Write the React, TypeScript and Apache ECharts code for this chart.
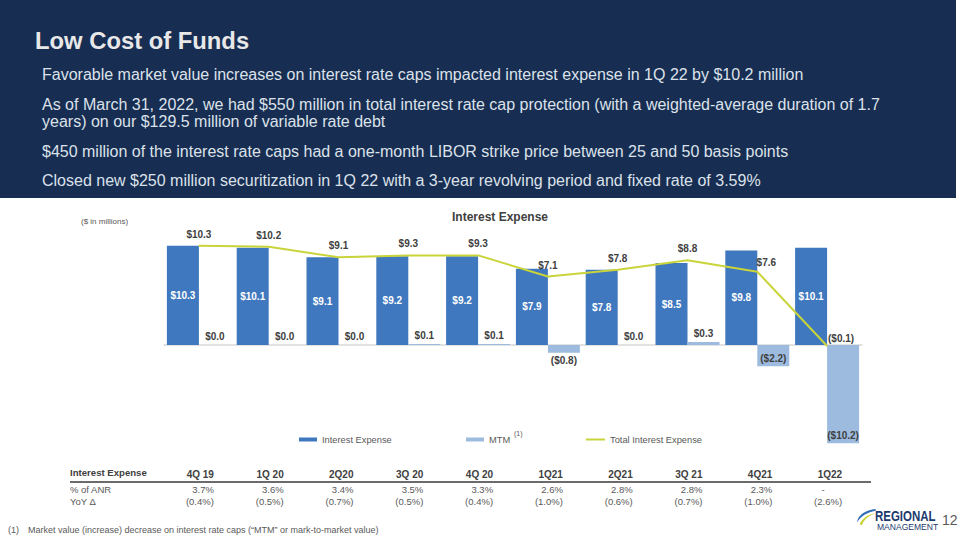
import React, { useEffect, useRef } from "react";
import * as echarts from "echarts";

const categories = ["4Q 19", "1Q 20", "2Q20", "3Q 20", "4Q 20", "1Q21", "2Q21", "3Q 21", "4Q21", "1Q22"];
const interestExpense = [10.3, 10.1, 9.1, 9.2, 9.2, 7.9, 7.8, 8.5, 9.8, 10.1];
const mtm = [0.0, 0.0, 0.0, 0.1, 0.1, -0.8, 0.0, 0.3, -2.2, -10.2];
const totalInterestExpense = [10.3, 10.2, 9.1, 9.3, 9.3, 7.1, 7.8, 8.8, 7.6, -0.1];
const anrPct = ["3.7%", "3.6%", "3.4%", "3.5%", "3.3%", "2.6%", "2.8%", "2.8%", "2.3%", "-"];
const yoyDelta = ["(0.4%)", "(0.5%)", "(0.7%)", "(0.5%)", "(0.4%)", "(1.0%)", "(0.6%)", "(0.7%)", "(1.0%)", "(2.6%)"];

const titleText = "Low Cost of Funds";
const bullets = [
  ["Favorable market value increases on interest rate caps impacted interest expense in 1Q 22 by $10.2 million"],
  [
    "As of March 31, 2022, we had $550 million in total interest rate cap protection (with a weighted-average duration of 1.7",
    "years) on our $129.5 million of variable rate debt",
  ],
  ["$450 million of the interest rate caps had a one-month LIBOR strike price between 25 and 50 basis points"],
  ["Closed new $250 million securitization in 1Q 22 with a 3-year revolving period and fixed rate of 3.59%"],
];
const footnote = "Market value (increase) decrease on interest rate caps (\u201cMTM\u201d or mark-to-market value)";

const FONT = "'Liberation Sans', Arial, Helvetica, sans-serif";
const NAVY = "#172D52";
const BLUE = "#3F78BE";
const LIGHT = "#9DBBDF";
const LINE = "#C9D43A";
const DARK = "#404040";
const GRAY = "#595959";

let registered = false;
function registerShapes() {
  if (registered) return;
  registered = true;
  echarts.graphic.registerShape(
    "swooshBlue",
    echarts.graphic.extendPath("M 22 0 C 10 1 1 7 0 16 C 4 9 11 4 22 2 Z", {}) as any
  );
  echarts.graphic.registerShape(
    "swooshYellow",
    echarts.graphic.extendPath("M 3 18 C 6 11 13 6 22 5 C 14 8 8 12 6 19 Z", {}) as any
  );
}

function fmt(v: number) {
  return v < 0 ? `($${Math.abs(v).toFixed(1)})` : `$${v.toFixed(1)}`;
}

function txt(x: number, y: number, text: string, size: number, fill: string, opts: any = {}) {
  return {
    type: "text",
    x,
    y,
    scaleX: opts.scaleX || 1,
    silent: true,
    style: {
      text,
      fill,
      fontSize: size,
      fontFamily: opts.family || FONT,
      fontWeight: opts.weight || "normal",
      textAlign: opts.align || "left",
      textVerticalAlign: "middle",
    },
  };
}

export default function App() {
  const ref = useRef<HTMLDivElement>(null);

  useEffect(() => {
    if (!ref.current) return;
    document.body.style.margin = "0";
    registerShapes();
    const chart = echarts.init(ref.current, null, { renderer: "svg", width: 960, height: 540 });

    const labelFont = { fontFamily: FONT, fontSize: 10, fontWeight: "bold" as const };

    const mtmData = mtm.map((v) => ({
      value: v,
      label: {
        position: v >= 0 ? "top" : v < -1.5 ? "insideBottom" : "bottom",
        distance: v >= 0 ? 4 : 3,
      },
    }));
    const lineData = totalInterestExpense.map((v, i) => {
      const item: any = { value: v };
      if (i === 8) item.label = { offset: [9, 2] };
      if (i === totalInterestExpense.length - 1) item.label = { offset: [14, 4] };
      return item;
    });

    const legendText = { color: GRAY, fontSize: 9.3, fontFamily: FONT };

    const option: any = {
      animation: false,
      backgroundColor: "#ffffff",
      textStyle: { fontFamily: FONT },
      grid: { left: 164, right: 98, top: 239, bottom: 89, containLabel: false },
      xAxis: {
        type: "category",
        data: categories,
        axisLine: { show: true, onZero: true, lineStyle: { color: "#D9D9D9", width: 1.5 } },
        axisTick: { show: false },
        axisLabel: { show: false },
        splitLine: { show: false },
      },
      yAxis: {
        type: "value",
        min: -11,
        max: 11,
        show: false,
        splitLine: { show: false },
      },
      legend: [
        {
          left: 299,
          top: 435,
          padding: 0,
          icon: "rect",
          itemWidth: 18,
          itemHeight: 4,
          data: ["Interest Expense"],
          textStyle: legendText,
        },
        {
          left: 466,
          top: 435,
          padding: 0,
          icon: "rect",
          itemWidth: 18,
          itemHeight: 4,
          data: ["MTM"],
          textStyle: legendText,
        },
        {
          left: 586,
          top: 435,
          padding: 0,
          icon: "rect",
          itemWidth: 19,
          itemHeight: 2,
          data: ["Total Interest Expense"],
          textStyle: legendText,
        },
      ],
      series: [
        {
          name: "Interest Expense",
          type: "bar",
          data: interestExpense,
          barWidth: 32,
          barGap: "0%",
          itemStyle: { color: BLUE },
          label: {
            show: true,
            position: "inside",
            color: "#ffffff",
            formatter: (p: any) => fmt(p.value),
            ...labelFont,
          },
        },
        {
          name: "MTM",
          type: "bar",
          data: mtmData,
          barWidth: 32,
          barGap: "0%",
          itemStyle: { color: LIGHT },
          label: {
            show: true,
            color: DARK,
            formatter: (p: any) => fmt(p.value),
            ...labelFont,
          },
        },
        {
          name: "Total Interest Expense",
          type: "line",
          data: lineData,
          symbol: "circle",
          symbolSize: 1,
          showSymbol: true,
          itemStyle: { color: LINE },
          lineStyle: { color: LINE, width: 2 },
          z: 5,
          label: {
            show: true,
            position: "top",
            distance: 6,
            color: DARK,
            formatter: (p: any) => fmt(p.value),
            ...labelFont,
          },
        },
      ],
    };
    chart.setOption(option);

    const xs = categories.map((c) => chart.convertToPixel({ xAxisIndex: 0 }, c) as number);

    const graphics: any[] = [];
    graphics.push({
      type: "rect",
      silent: true,
      z: -10,
      shape: { x: 0, y: 0, width: 956, height: 198 },
      style: { fill: NAVY },
    });
    graphics.push(txt(35, 40, titleText, 23.8, "#E8E8E8", { weight: "bold" }));
    const bulletYs = [[74], [104, 121], [151], [180]];
    bullets.forEach((lines, i) => {
      lines.forEach((line, j) => {
        graphics.push(txt(42, bulletYs[i][j], line, 16, "#DCE2EA"));
      });
    });

    graphics.push(txt(500, 217, "Interest Expense", 12, DARK, { weight: "bold", align: "center" }));
    graphics.push(txt(81, 221, "($ in millions)", 8, GRAY));
    graphics.push(txt(514, 433, "(1)", 7, GRAY));

    graphics.push(txt(70, 472, "Interest Expense", 9.6, DARK, { weight: "bold" }));
    graphics.push(txt(70, 489, "% of ANR", 9.5, GRAY));
    graphics.push(txt(70, 501, "YoY \u0394", 9.5, GRAY));
    graphics.push({
      type: "line",
      silent: true,
      shape: { x1: 70, y1: 482, x2: 871, y2: 482 },
      style: { stroke: "#3A3A3A", lineWidth: 1.5 },
    });
    xs.forEach((x, i) => {
      graphics.push(txt(x + 15, 474, categories[i], 10, DARK, { weight: "bold", align: "right" }));
      if (anrPct[i] === "-") {
        graphics.push(txt(x - 4, 489, anrPct[i], 9.5, GRAY, { align: "center" }));
      } else {
        graphics.push(txt(x + 15, 489, anrPct[i], 9.5, GRAY, { align: "right" }));
      }
      graphics.push(txt(x + 15, 501, yoyDelta[i], 9.5, GRAY, { align: "right" }));
    });

    graphics.push(txt(8, 530, "(1)", 9, GRAY));
    graphics.push(txt(28, 530, footnote, 9, GRAY));

    graphics.push({ type: "swooshBlue", x: 857, y: 509, scaleX: 0.85, scaleY: 0.85, silent: true, style: { fill: "#2E6DB4" } });
    graphics.push({ type: "swooshYellow", x: 857, y: 509, scaleX: 0.85, scaleY: 0.85, silent: true, style: { fill: "#C9D43A" } });
    graphics.push(txt(875, 516, "REGIONAL", 14, "#1D3A6E", { weight: "bold", scaleX: 0.82 }));
    graphics.push(txt(877, 527, "MANAGEMENT", 9, "#1D3A6E", { scaleX: 0.95 }));
    graphics.push(txt(942, 520, "12", 14, GRAY));

    chart.setOption({ graphic: graphics });

    return () => chart.dispose();
  }, []);

  return (
    <div
      ref={ref}
      style={{ position: "absolute", left: 0, top: 0, width: 960, height: 540, background: "#fff" }}
    />
  );
}
